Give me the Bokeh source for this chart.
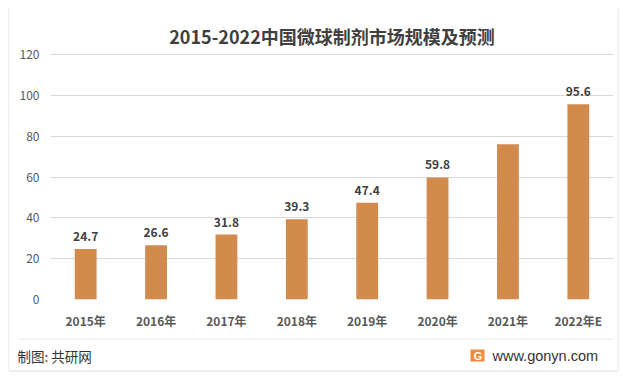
from bokeh.plotting import figure
from bokeh.models import ColumnDataSource, Title, Range1d
from bokeh.layouts import row, column
from bokeh.core.properties import value
from bokeh.embed import file_html
from bokeh.resources import INLINE

# ---- data ----
years = ["2015年", "2016年", "2017年", "2018年", "2019年", "2020年", "2021年", "2022年E"]
market_size = [24.7, 26.6, 31.8, 39.3, 47.4, 59.8, 76.0, 95.6]
size_labels = ["24.7", "26.6", "31.8", "39.3", "47.4", "59.8", "", "95.6"]
y_ticks = [0, 20, 40, 60, 80, 100, 120]
title_text = "2015-2022中国微球制剂市场规模及预测"
source_text = "制图: 共研网"
site_text = "www.gonyn.com"

CJK = "Noto Sans CJK SC"
BORDER = "#d9d9d9"
W, H = 623, 377
LEFT_W, RIGHT_W, TOP_H, FOOT_H = 9, 6, 9, 39
MID_W = W - LEFT_W - RIGHT_W          # 608
MAIN_H = H - TOP_H - FOOT_H           # 329


def blank_fig(w, h, xr, yr):
    f = figure(width=w, height=h, x_range=Range1d(*xr), y_range=Range1d(*yr),
               output_backend="svg", toolbar_location=None,
               x_axis_location=None, y_axis_location=None,
               min_border=0, min_border_left=0, min_border_right=0,
               min_border_top=0, min_border_bottom=0)
    f.grid.visible = False
    f.outline_line_color = None
    f.background_fill_color = "white"
    f.border_fill_color = "white"
    return f


# ---- main chart ----
src = ColumnDataSource(dict(x=years, top=market_size, lbl=size_labels))

p = figure(x_range=years, y_range=(0, 121), width=MID_W, height=MAIN_H,
           output_backend="svg", toolbar_location=None,
           min_border_left=41, min_border_right=4, min_border_top=43, min_border_bottom=39)
p.background_fill_color = "white"
p.border_fill_color = "white"
p.outline_line_color = None

p.vbar(x="x", top="top", width=0.31, source=src, fill_color="#D38B4D", line_color=None)
p.text(x="x", y="top", text="lbl", source=src, text_align="center", text_baseline="bottom",
       y_offset=-8, text_font=value(CJK), text_font_style="bold", text_font_size="12px",
       text_color="#404040")

p.yaxis.ticker = y_ticks
for ax in (p.xaxis, p.yaxis):
    ax.axis_line_color = None
    ax.major_tick_line_color = None
    ax.minor_tick_line_color = None
    ax.major_tick_out = 0
    ax.major_tick_in = 0
    ax.major_label_text_color = "#595959"
    ax.major_label_text_font = CJK
    ax.major_label_text_font_size = "12px"
p.yaxis.major_label_standoff = 11
p.xaxis.major_label_standoff = 12
p.xaxis.major_label_text_font_style = "bold"

p.xgrid.grid_line_color = None
p.ygrid.grid_line_color = BORDER
p.ygrid.grid_line_width = 1

p.add_layout(Title(text=title_text, align="center", offset=3, standoff=8,
                   text_font=CJK, text_font_style="bold", text_font_size="18px",
                   text_color="#404040"), "above")

# ---- frame strips (outer border), coordinates in page pixels ----
left = blank_fig(LEFT_W, H, (0, LEFT_W), (H, 0))
left.segment(x0=[8.5], y0=[8.5], x1=[8.5], y1=[H - 6.5], line_color=BORDER, line_width=1)

right = blank_fig(RIGHT_W, H, (W - RIGHT_W, W), (H, 0))
right.segment(x0=[617.5], y0=[8.5], x1=[617.5], y1=[H - 6.5], line_color=BORDER, line_width=1)

top = blank_fig(MID_W, TOP_H, (LEFT_W, W - RIGHT_W), (TOP_H, 0))
top.segment(x0=[LEFT_W], y0=[8.5], x1=[W - RIGHT_W], y1=[8.5], line_color=BORDER, line_width=1)

# ---- footer ----
foot = blank_fig(MID_W, FOOT_H, (LEFT_W, W - RIGHT_W), (H, H - FOOT_H))
foot.segment(x0=[18], y0=[338.5], x1=[613], y1=[338.5], line_color="#e3e3e3", line_width=1)
foot.segment(x0=[LEFT_W], y0=[H - 6.5], x1=[W - RIGHT_W], y1=[H - 6.5],
             line_color=BORDER, line_width=1)
foot.text(x=[17], y=[355], text=[source_text], text_align="left", text_baseline="middle",
          text_font=value(CJK), text_font_size="13.5px", text_color="#333333")
foot.quad(left=[470], right=[484], top=[349], bottom=[361], fill_color="#F08A3C", line_color=None)
foot.text(x=[477.5], y=[355.5], text=["G"], text_align="center", text_baseline="middle",
          text_font=value("Liberation Sans"), text_font_style="bold", text_font_size="11px",
          text_color="white")
foot.text(x=[492], y=[355], text=[site_text], text_align="left", text_baseline="middle",
          text_font=value("Liberation Sans"), text_font_size="14.5px", text_color="#333333")

# wrap strips so their frames are not aligned with the chart's frame
layout = row(left, column(row(top), p, row(foot)), right)

open("out.html", "w").write(file_html(layout, INLINE))
